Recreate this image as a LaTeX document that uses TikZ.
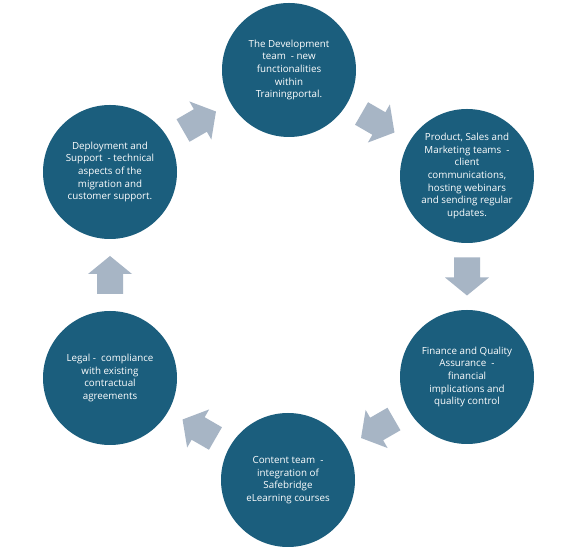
\documentclass[tikz,border=0pt]{standalone}
\usepackage{fontspec}
\setmainfont{Open Sans}
\usetikzlibrary{calc}
\definecolor{circfill}{RGB}{27,94,125}
\definecolor{arrfill}{RGB}{167,181,197}
\begin{document}
\begin{tikzpicture}[x=1pt,y=1pt,
  stage/.style={circle, fill=circfill, minimum size=134pt, inner sep=0pt, text=white, align=center, font=\fontsize{9.8}{12.6}\selectfont},
  blockarrow/.pic={\fill[arrfill] (-19,-13)--(1,-13)--(1,-22)--(19,0)--(1,22)--(1,13)--(-19,13)--cycle;}]
\useasboundingbox[fill=white] (0,0) rectangle (576,551);
\node[stage] (top) at (289,481) {The Development\\team\ \ - new\\functionalities\\within\\Trainingportal.};
\node[stage] (tr) at (467,375) {Product, Sales and\\Marketing teams\ \ -\\client\\communications,\\hosting webinars\\and sending regular\\updates.};
\node[stage] (br) at (467,174) {Finance and Quality\\Assurance\ \ -\\financial\\implications and\\quality control};
\node[stage] (bot) at (288,71) {Content team\ \ -\\integration of\\Safebridge\\eLearning courses};
\node[stage] (bl) at (110,173) {Legal -\ \ compliance\\with existing\\contractual\\agreements};
\node[stage] (tl) at (110,379) {Deployment and\\Support\ \ - technical\\aspects of the\\migration and\\customer support.};
\pic[rotate=30] at ($(tl)!0.5!(top)$) {blockarrow};
\pic[rotate=-30] at ($(top)!0.5!(tr)$) {blockarrow};
\pic[rotate=-90] at ($(tr)!0.5!(br)$) {blockarrow};
\pic[rotate=210] at ($(br)!0.5!(bot)$) {blockarrow};
\pic[rotate=150] at ($(bot)!0.5!(bl)$) {blockarrow};
\pic[rotate=90] at ($(bl)!0.5!(tl)$) {blockarrow};
\end{tikzpicture}
\end{document}
